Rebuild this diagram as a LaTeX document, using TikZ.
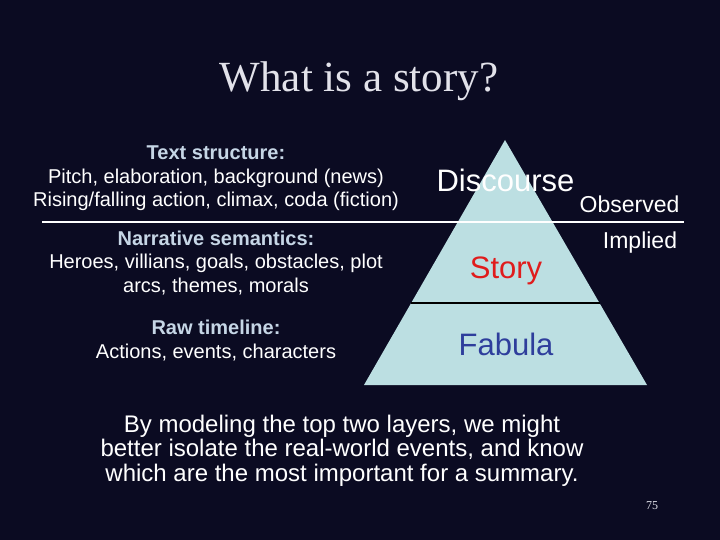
\documentclass[tikz,border=0pt]{standalone}
\usepackage{fontspec}
\setmainfont{Liberation Serif}
\setsansfont{Liberation Sans}
\definecolor{slidebg}{HTML}{0B0B22}
\definecolor{pyramid}{HTML}{BCDFE2}
\definecolor{headblue}{HTML}{C6D6E6}
\definecolor{storyred}{HTML}{E01C1C}
\definecolor{fabulablue}{HTML}{2E3E9C}
\definecolor{titlegray}{HTML}{E2E2EA}
\newcommand{\hd}[1]{{\bfseries\color{headblue}#1}}
\tikzset{
  layertext/.style={font=\sffamily\fontsize{31}{36}\selectfont, anchor=base, inner sep=0pt},
  sidetext/.style={text=white, align=center, font=\sffamily\fontsize{20}{23.5}\selectfont, anchor=base, inner sep=0pt},
  marktext/.style={text=white, font=\sffamily\fontsize{23}{27}\selectfont, anchor=base, inner sep=0pt}
}

\begin{document}
\begin{tikzpicture}[x=1pt,y=-1pt]
\fill[slidebg] (0,0) rectangle (720,540);
\useasboundingbox (0,0) rectangle (720,540);
\node[text=titlegray, font=\fontsize{43}{50}\selectfont, anchor=base, inner sep=0pt] (title) at (359,92) {What is a story?};
% pyramid
\coordinate (apex) at (505,140);
\coordinate (baseL) at (364,385);
\coordinate (baseR) at (647,385);
\fill[pyramid] (apex) -- (baseR) -- (baseL) -- cycle;
\coordinate (storyL) at (410.5,303);
\coordinate (storyR) at (599.5,303);
\draw[black, line width=1.2pt] (storyL) -- (storyR);
\coordinate (ruleL) at (42,222);
\coordinate (ruleR) at (684,222);
\draw[white, line width=1.8pt] (ruleL) -- (ruleR);
\node[layertext, text=white] (discourse) at (505.5,192) {Discourse};
\node[layertext, text=storyred] (story) at (506,278) {Story};
\node[layertext, text=fabulablue] (fabula) at (506,355) {Fabula};
\node[marktext] (observed) at (629.5,213) {Observed};
\node[marktext] (implied) at (640,248) {Implied};
% left column (anchored on the last line)
\node[sidetext] (textstruct) at (216,207) {\hd{Text structure:}\\Pitch, elaboration, background (news)\\Rising/falling action, climax, coda (fiction)};
\node[sidetext] (semantics) at (216,292) {\hd{Narrative semantics:}\\Heroes, villians, goals, obstacles, plot\\arcs, themes, morals};
\node[sidetext] (timeline) at (216,358) {\hd{Raw timeline:}\\Actions, events, characters};
\node[text=white, align=center, font=\sffamily\fontsize{24}{24.5}\selectfont, anchor=base, inner sep=0pt] (summary) at (342,481) {By modeling the top two layers, we might\\better isolate the real-world events, and know\\which are the most important for a summary.};
\node[text=titlegray, font=\fontsize{12}{14}\selectfont, anchor=base, inner sep=0pt] (pagenum) at (652,509) {75};
\end{tikzpicture}
\end{document}
